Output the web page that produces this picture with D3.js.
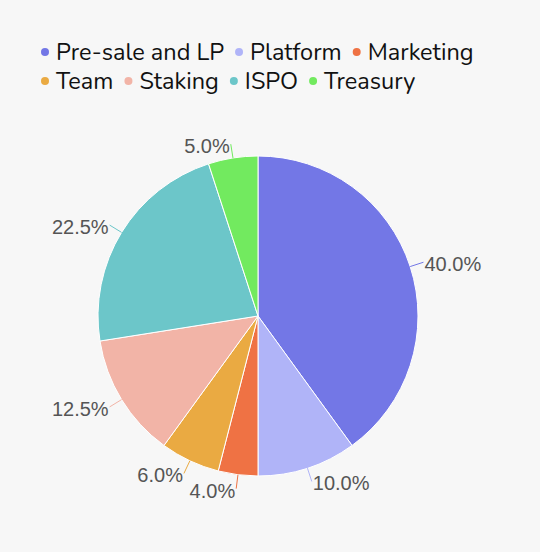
<!DOCTYPE html>
<html>
<head>
<meta charset="utf-8">
<script src="https://cdn.jsdelivr.net/npm/d3@7"></script>
<style>
  html, body { margin: 0; padding: 0; background: #f7f7f7; }
  svg { display: block; }
</style>
</head>
<body>
<svg id="chart" width="540" height="552"></svg>
<script>
const categories = ["Pre-sale and LP", "Platform", "Marketing", "Team", "Staking", "ISPO", "Treasury"];
const values = [40.0, 10.0, 4.0, 6.0, 12.5, 22.5, 5.0];
const colors = ["#7377e6", "#b0b4f8", "#ef7244", "#eaaa42", "#f2b4a7", "#6cc6c9", "#72ea5f"];

const W = 540, H = 552;
const cx = 258, cy = 316, R = 160;
const svg = d3.select("#chart");
svg.append("rect").attr("width", W).attr("height", H).attr("fill", "#f7f7f7");

const color = d3.scaleOrdinal().domain(categories).range(colors);
const data = categories.map((c, i) => ({ name: c, value: values[i] }));
const pie = d3.pie().sort(null).value(d => d.value);
const arcs = pie(data);
const arc = d3.arc().innerRadius(0).outerRadius(R);

const g = svg.append("g").attr("transform", `translate(${cx},${cy})`);
g.selectAll("path.slice").data(arcs).join("path")
  .attr("class", "slice")
  .attr("d", arc)
  .attr("fill", d => color(d.data.name))
  .attr("stroke", "#ffffff")
  .attr("stroke-width", 1);

// label lines + labels
const total = d3.sum(values);
const lineLen = 14;
const labels = g.append("g");
arcs.forEach(d => {
  const a = (d.startAngle + d.endAngle) / 2;
  const sx = Math.sin(a), sy = -Math.cos(a);
  const x0 = R * sx, y0 = R * sy;
  const x1 = (R + lineLen) * sx, y1 = (R + lineLen) * sy;
  labels.append("line")
    .attr("x1", x0).attr("y1", y0).attr("x2", x1).attr("y2", y1)
    .attr("stroke", color(d.data.name)).attr("stroke-width", 1);
  const right = sx >= 0;
  labels.append("text")
    .attr("x", x1 + (right ? 1 : -1))
    .attr("y", y1 + 2)
    .attr("text-anchor", right ? "start" : "end")
    .attr("dominant-baseline", "central")
    .attr("font-family", "'Liberation Sans', Arial, sans-serif")
    .attr("font-size", 20)
    .attr("fill", "#555555")
    .text((d.data.value / total * 100).toFixed(1) + "%");
});

// legend (flow layout, left aligned, wrapping)
const legend = svg.append("g");
const legendX = 45, legendMaxX = 490;
const rowY = [52, 81];
let x = legendX, row = 0;
categories.forEach((c, i) => {
  const item = legend.append("g");
  const t = item.append("text")
    .attr("font-family", "Nunito, 'Noto Sans', sans-serif")
    .attr("font-size", 23.5)
    .attr("fill", "#111111")
    .attr("dominant-baseline", "central")
    .text(c);
  const w = t.node().getComputedTextLength();
  if (x + 11 + w > legendMaxX) { row++; x = legendX; }
  item.append("circle").attr("cx", x).attr("cy", rowY[row]).attr("r", 4).attr("fill", color(c));
  t.attr("x", x + 11).attr("y", rowY[row]);
  x = x + 11 + w + 15;
});
</script>
</body>
</html>
